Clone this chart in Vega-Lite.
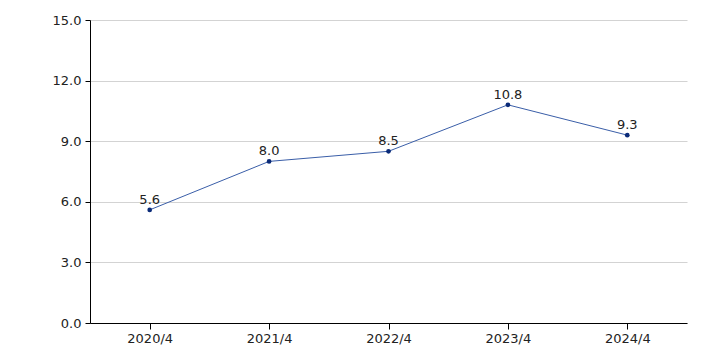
{
  "$schema": "https://vega.github.io/schema/vega-lite/v6.json",
  "autosize": "none",
  "padding": {"left": 90, "top": 20, "right": 19, "bottom": 30},
  "width": 597,
  "height": 303,
  "background": "white",
  "config": {"view": {"stroke": null}, "font": "DejaVu Sans"},
  "data": {"values": [
    {"period": "2020/4", "value": 5.6},
    {"period": "2021/4", "value": 8.0},
    {"period": "2022/4", "value": 8.5},
    {"period": "2023/4", "value": 10.8},
    {"period": "2024/4", "value": 9.3}
  ]},
  "encoding": {
    "x": {"field": "period", "type": "ordinal", "scale": {"type": "point", "padding": 0.5},
      "axis": {"title": null, "labelAngle": 0, "labelFontSize": 13, "labelColor": "#222", "domainColor": "#000", "tickColor": "#000", "tickSize": 6, "labelPadding": 3, "grid": false}},
    "y": {"field": "value", "type": "quantitative", "scale": {"domain": [0, 15], "nice": false},
      "axis": {"title": null, "values": [0, 3, 6, 9, 12, 15], "format": ".1f", "labelFontSize": 13, "labelColor": "#222", "domainColor": "#000", "tickColor": "#000", "tickSize": 5, "labelPadding": 4, "gridColor": "#d3d3d3"}}
  },
  "layer": [
    {"mark": {"type": "line", "color": "#3a5ea8", "strokeWidth": 1}},
    {"mark": {"type": "point", "filled": true, "color": "#0a2a78", "size": 22, "opacity": 1}},
    {"mark": {"type": "text", "dy": -10, "fontSize": 13, "color": "#222"}, "encoding": {"text": {"field": "value", "type": "quantitative", "format": ".1f"}}}
  ]
}
